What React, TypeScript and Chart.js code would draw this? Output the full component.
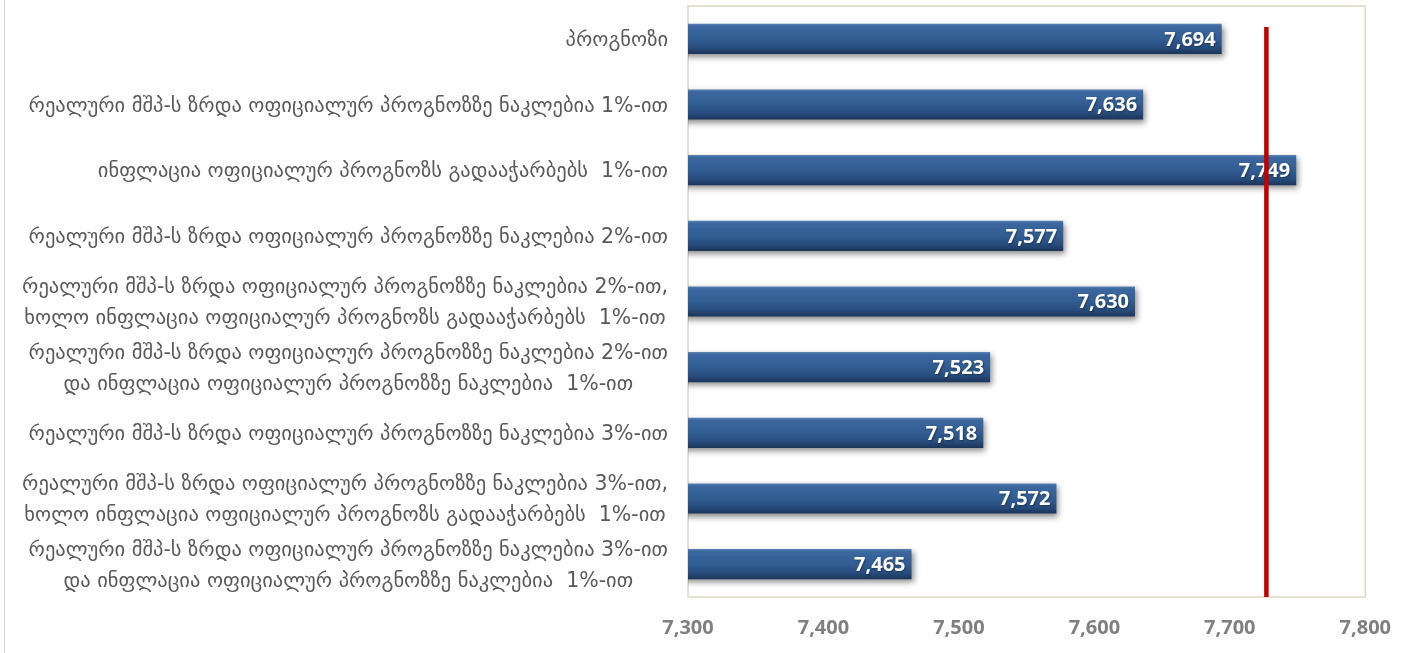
import React, { useEffect, useRef } from "react";
import { Chart, registerables } from "chart.js";

Chart.register(...registerables);

// Scenario names (rows of the chart, top to bottom)
const scenarios: string[][] = [
  ["პროგნოზი"],
  ["რეალური მშპ-ს ზრდა ოფიციალურ პროგნოზზე ნაკლებია 1%-ით"],
  ["ინფლაცია ოფიციალურ პროგნოზს გადააჭარბებს  1%-ით"],
  ["რეალური მშპ-ს ზრდა ოფიციალურ პროგნოზზე ნაკლებია 2%-ით"],
  [
    "რეალური მშპ-ს ზრდა ოფიციალურ პროგნოზზე ნაკლებია 2%-ით,",
    "ხოლო ინფლაცია ოფიციალურ პროგნოზს გადააჭარბებს  1%-ით",
  ],
  [
    "რეალური მშპ-ს ზრდა ოფიციალურ პროგნოზზე ნაკლებია 2%-ით",
    "და ინფლაცია ოფიციალურ პროგნოზზე ნაკლებია  1%-ით",
  ],
  ["რეალური მშპ-ს ზრდა ოფიციალურ პროგნოზზე ნაკლებია 3%-ით"],
  [
    "რეალური მშპ-ს ზრდა ოფიციალურ პროგნოზზე ნაკლებია 3%-ით,",
    "ხოლო ინფლაცია ოფიციალურ პროგნოზს გადააჭარბებს  1%-ით",
  ],
  [
    "რეალური მშპ-ს ზრდა ოფიციალურ პროგნოზზე ნაკლებია 3%-ით",
    "და ინფლაცია ოფიციალურ პროგნოზზე ნაკლებია  1%-ით",
  ],
];

// Value for each scenario
const values: number[] = [7694, 7636, 7749, 7577, 7630, 7523, 7518, 7572, 7465];

// Value axis range and step
const axisMin = 7300;
const axisMax = 7800;
const axisStep = 100;

// Reference threshold (red vertical line) and the category span it covers
const thresholdValue = 7727;
const thresholdFromIndex = -0.18;

const fmt = (v: number) => v.toLocaleString("en-US");

const labelFont = '20.5px "DejaVu Sans"';
const labelColor = "#595959";
const labelLineHeight = 31;

const frameAndShadowPlugin = {
  id: "frameAndShadow",
  beforeDatasetsDraw(chart: any) {
    const { ctx, chartArea } = chart;
    ctx.save();
    ctx.strokeStyle = "#ddd9c3";
    ctx.lineWidth = 1.5;
    ctx.strokeRect(chartArea.left, chartArea.top, chartArea.right - chartArea.left, chartArea.bottom - chartArea.top);
    ctx.restore();
  },
  beforeDatasetDraw(chart: any) {
    const ctx = chart.ctx;
    ctx.save();
    ctx.shadowColor = "rgba(0,0,0,0.45)";
    ctx.shadowBlur = 6;
    ctx.shadowOffsetX = 2;
    ctx.shadowOffsetY = 3;
  },
  afterDatasetDraw(chart: any) {
    chart.ctx.restore();
  },
};

const annotationsPlugin = {
  id: "annotations",
  afterDatasetsDraw(chart: any) {
    const { ctx, chartArea, scales } = chart;
    const meta = chart.getDatasetMeta(0);

    // Value labels inside the bar ends
    ctx.save();
    ctx.font = 'bold 20px "Open Sans"';
    ctx.fillStyle = "#ffffff";
    ctx.textAlign = "right";
    ctx.textBaseline = "middle";
    ctx.shadowColor = "rgba(0,0,0,0.35)";
    ctx.shadowBlur = 2;
    ctx.shadowOffsetX = 1;
    ctx.shadowOffsetY = 1;
    meta.data.forEach((bar: any, i: number) => {
      ctx.fillText(fmt(values[i]), bar.x - 6, bar.y + 1);
    });
    ctx.restore();

    // Scenario names, block right-aligned, lines centred within the block
    ctx.save();
    ctx.font = labelFont;
    ctx.fillStyle = labelColor;
    ctx.textAlign = "center";
    ctx.textBaseline = "middle";
    const right = chartArea.left - 20;
    scenarios.forEach((lines, i) => {
      const cy = scales.y.getPixelForValue(i) + 2;
      const w = Math.max(...lines.map((l) => ctx.measureText(l).width));
      const cx = right - w / 2;
      lines.forEach((line, k) => {
        const y = cy + (k - (lines.length - 1) / 2) * labelLineHeight;
        ctx.fillText(line, cx, y);
      });
    });
    ctx.restore();

    // Threshold line
    const x = scales.x.getPixelForValue(thresholdValue);
    const yTop = scales.y.getPixelForValue(thresholdFromIndex);
    ctx.save();
    ctx.strokeStyle = "#c00000";
    ctx.lineWidth = 4.5;
    ctx.beginPath();
    ctx.moveTo(x, yTop);
    ctx.lineTo(x, chartArea.bottom);
    ctx.stroke();
    ctx.restore();
  },
};

function barGradient(context: any) {
  const chart = context.chart;
  const yScale = chart.scales?.y;
  if (!yScale || !chart.chartArea) return "#2f5b91";
  const i = context.dataIndex;
  const center = yScale.getPixelForValue(i);
  const per = (yScale.bottom - yScale.top) / scenarios.length;
  const half = (per * 0.46) / 2;
  const g = chart.ctx.createLinearGradient(0, center - half, 0, center + half);
  g.addColorStop(0, "#5c82b4");
  g.addColorStop(0.08, "#3d689f");
  g.addColorStop(0.5, "#315d93");
  g.addColorStop(0.78, "#284d7e");
  g.addColorStop(1, "#1b3458");
  return g;
}

export default function App() {
  const canvasRef = useRef<HTMLCanvasElement | null>(null);

  useEffect(() => {
    if (!canvasRef.current) return;
    const chart = new Chart(canvasRef.current, {
      type: "bar",
      data: {
        labels: scenarios.map((l) => l.join(" ")),
        datasets: [
          {
            data: values,
            backgroundColor: barGradient,
            borderWidth: 0,
            categoryPercentage: 1,
            barPercentage: 0.46,
          },
        ],
      },
      options: {
        indexAxis: "y",
        animation: false,
        responsive: true,
        maintainAspectRatio: false,
        layout: { padding: { top: 6, right: 11, bottom: 12, left: 8 } },
        plugins: {
          legend: { display: false },
          tooltip: { enabled: false },
        },
        scales: {
          x: {
            min: axisMin,
            max: axisMax,
            grid: { display: false, drawTicks: false },
            border: { display: false },
            ticks: {
              stepSize: axisStep,
              padding: 19,
              color: "#7f7f7f",
              font: { family: '"Open Sans"', size: 20, weight: "bold", lineHeight: 1.2 },
              callback: (v: any) => fmt(Number(v)),
            },
            afterFit: (scale: any) => {
              scale.height = 44;
            },
          },
          y: {
            grid: { display: false, drawTicks: false },
            border: { display: false },
            ticks: { display: false },
            afterFit: (scale: any) => {
              scale.width = 680;
            },
          },
        },
      },
      plugins: [frameAndShadowPlugin, annotationsPlugin],
    });
    return () => chart.destroy();
  }, []);

  return (
    <div style={{ position: "absolute", left: 0, top: 0, width: 1410, height: 653, background: "#ffffff" }}>
      <div style={{ position: "absolute", left: 4, top: 0, width: 1, height: 653, background: "#d4d4d4" }} />
      <canvas ref={canvasRef} />
    </div>
  );
}
